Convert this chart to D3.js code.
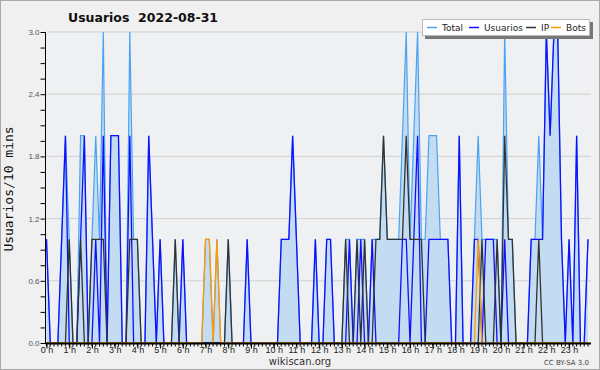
<!DOCTYPE html>
<html>
<head>
<meta charset="utf-8">
<script src="https://cdn.jsdelivr.net/npm/d3@7"></script>
<style>
  body { margin: 0; background: #fff; }
  svg { display: block; font-family: 'DejaVu Sans', sans-serif; }
</style>
</head>
<body>
<svg id="chart" width="600" height="370"></svg>
<script>
// valeurs par tranche de 10 minutes (144 points), une ligne = 2 heures
const total = [
  1,0,0,0,1,2,1,0,0,2,2,0,
  1,2,1,3,0,2,2,2,0,0,3,1,
  1,0,0,2,1,0,1,0,0,0,1,0,
  1,0,0,0,0,0,1,1,0,1,0,0,
  1,0,0,0,0,1,0,0,0,0,0,0,
  0,0,1,1,1,2,1,0,0,0,0,1,
  0,0,1,1,0,0,0,1,1,0,1,1,
  1,0,1,1,1,2,1,1,1,1,2,3,
  1,2,3,1,1,2,2,2,1,1,1,0,
  0,2,0,0,0,1,2,1,1,1,1,1,
  0,3,1,1,0,0,0,0,1,1,2,1,
  3,2,3,3,1,0,1,0,2,0,0,1
]
const usuarios = [
  1,0,0,0,1,2,0,0,0,1,2,0,
  0,1,0,2,0,2,2,2,0,0,2,0,
  0,0,0,2,1,0,1,0,0,0,0,0,
  1,0,0,0,0,0,0,0,0,0,0,0,
  0,0,0,0,0,1,0,0,0,0,0,0,
  0,0,1,1,1,2,1,0,0,0,0,1,
  0,0,1,1,0,0,0,0,1,0,0,1,
  0,0,1,0,0,0,0,0,0,0,1,1,
  0,1,2,0,0,1,1,1,1,1,1,0,
  0,2,0,0,0,1,1,0,1,1,1,0,
  0,1,0,0,0,0,0,0,1,1,1,1,
  3,2,3,3,1,0,1,0,2,0,0,1
]
const ip = [
  0,0,0,0,0,0,1,0,0,1,0,0,
  1,1,1,1,0,0,0,0,0,0,1,1,
  1,0,0,0,0,0,0,0,0,0,1,0,
  0,0,0,0,0,0,0,0,0,0,0,0,
  1,0,0,0,0,0,0,0,0,0,0,0,
  0,0,0,0,0,0,0,0,0,0,0,0,
  0,0,0,0,0,0,0,1,0,0,1,0,
  1,0,0,1,1,2,1,1,1,1,1,2,
  1,1,1,1,0,0,0,0,0,0,0,0,
  0,0,0,0,0,0,0,1,0,0,0,1,
  0,2,1,1,0,0,0,0,0,0,1,0,
  0,0,0,0,0,0,0,0,0,0,0,0
]
const bots = [
  0,0,0,0,0,0,0,0,0,0,0,0,
  0,0,0,0,0,0,0,0,0,0,0,0,
  0,0,0,0,0,0,0,0,0,0,0,0,
  0,0,0,0,0,0,1,1,0,1,0,0,
  0,0,0,0,0,0,0,0,0,0,0,0,
  0,0,0,0,0,0,0,0,0,0,0,0,
  0,0,0,0,0,0,0,0,0,0,0,0,
  0,0,0,0,0,0,0,0,0,0,0,0,
  0,0,0,0,0,0,0,0,0,0,0,0,
  0,0,0,0,0,0,1,0,0,0,0,0,
  0,0,0,0,0,0,0,0,0,0,0,0,
  0,0,0,0,0,0,0,0,0,0,0,0
]
const hourLabels = ['0 h', '1 h', '2 h', '3 h', '4 h', '5 h', '6 h', '7 h', '8 h', '9 h', '10 h', '11 h',
  '12 h', '13 h', '14 h', '15 h', '16 h', '17 h', '18 h', '19 h', '20 h', '21 h', '22 h', '23 h']
const yTicks = [0, 0.6, 1.2, 1.8, 2.4, 3.0]
const seriesNames = ['Total', 'Usuarios', 'IP', 'Bots']

// mise en page
const plotLeft = 46.5
const plotRight = 588
const plotTop = 32
const plotBottom = 343
const colors = { Total: '#4aa3f0', Usuarios: '#1010ff', IP: '#333333', Bots: '#ff9a00' }

const svg = d3.select('#chart')
svg.append('rect').attr('x', 0.5).attr('y', 0.5).attr('width', 599).attr('height', 369)
  .style('fill', '#f0f0f0').style('stroke', '#a8a8a8')
svg.append('rect').attr('x', plotLeft).attr('y', plotTop).attr('width', 591 - plotLeft).attr('height', plotBottom - plotTop)
  .style('fill', '#eef0f2')

const x = d3.scaleLinear().domain([0, total.length - 1]).range([plotLeft, plotRight])
const y = d3.scaleLinear().domain([0, 3]).range([plotBottom, plotTop])

// grille
svg.append('g').selectAll('line').data(yTicks.slice(1)).join('line')
  .attr('x1', plotLeft).attr('x2', 591)
  .attr('y1', d => y(d)).attr('y2', d => y(d))
  .style('stroke', '#cfcfcf')

// aire + courbes
svg.append('path').datum(total)
  .attr('d', d3.area().x((d, i) => x(i)).y0(y(0)).y1(d => y(d)))
  .style('fill', '#c4dcf1')

const line = d3.line().x((d, i) => x(i)).y(d => y(d))
const data = { Total: total, Usuarios: usuarios, IP: ip, Bots: bots }
seriesNames.forEach(name => {
  svg.append('path').datum(data[name])
    .attr('d', line)
    .style('fill', 'none')
    .style('stroke', colors[name])
    .style('stroke-width', name === 'Total' ? 1.2 : 1.3)
})

// axes
const yAxis = svg.append('g').attr('transform', `translate(${plotLeft - 1},0)`)
  .call(d3.axisLeft(y).tickValues(d3.range(0, 3.01, 0.15)).tickSize(5)
    .tickFormat(d => yTicks.some(t => Math.abs(t - d) < 1e-6) ? d.toFixed(1) : ''))
yAxis.selectAll('text').style('font-size', '8px').style('fill', '#555').attr('x', -6)
yAxis.select('.domain').attr('d', `M0,${plotTop}V${plotBottom + 1}`).style('stroke', '#000')

const xAxis = svg.append('g').attr('transform', `translate(0,${plotBottom + 0.5})`)
  .call(d3.axisBottom(x).tickValues(d3.range(0, 144, 6)).tickSize(5)
    .tickFormat((d, i) => hourLabels[i]))
xAxis.selectAll('text').style('font-size', '9px').style('fill', '#222').attr('y', 3)
xAxis.select('.domain').attr('d', `M${plotLeft - 1},0H591`).style('stroke', '#000').style('stroke-width', 2)
xAxis.append('g').selectAll('line').data(d3.range(0, 144)).join('line')
  .attr('x1', d => x(d)).attr('x2', d => x(d))
  .attr('y1', 0).attr('y2', 3)
  .style('stroke', '#000')

// titres
svg.append('text').attr('x', 68).attr('y', 22)
  .style('font-size', '12.5px').style('font-weight', 'bold').style('fill', '#111')
  .style('white-space', 'pre')
  .text('Usuarios  2022-08-31')
svg.append('text').attr('transform', 'translate(13,189) rotate(-90)')
  .style('text-anchor', 'middle').style('font-size', '13px').style('fill', '#111')
  .style('font-family', "'DejaVu Sans Mono', monospace")
  .text('Usuarios/10 mins')
svg.append('text').attr('x', 300).attr('y', 365)
  .style('text-anchor', 'middle').style('font-size', '10px').style('fill', '#333')
  .text('wikiscan.org')
svg.append('text').attr('x', 589).attr('y', 365)
  .style('text-anchor', 'end').style('font-size', '7px').style('fill', '#444')
  .text('CC BY-SA 3.0')

// légende
const legend = svg.append('g').attr('transform', 'translate(422,19)')
legend.append('rect').attr('x', 3).attr('y', 3).attr('width', 168).attr('height', 17).style('fill', '#777')
legend.append('rect').attr('x', 0.5).attr('y', 0.5).attr('width', 167).attr('height', 16)
  .style('fill', '#fff').style('stroke', '#bbb')
const legendX = [5, 47, 104, 129]
seriesNames.forEach((name, i) => {
  const g = legend.append('g').attr('transform', `translate(${legendX[i]},0)`)
  g.append('line').attr('x1', 0).attr('x2', 10).attr('y1', 8.5).attr('y2', 8.5)
    .style('stroke', colors[name]).style('stroke-width', 1.5)
  g.append('text').attr('x', 15).attr('y', 12)
    .style('font-size', '9px').style('fill', '#222').text(name)
})
</script>
</body>
</html>
